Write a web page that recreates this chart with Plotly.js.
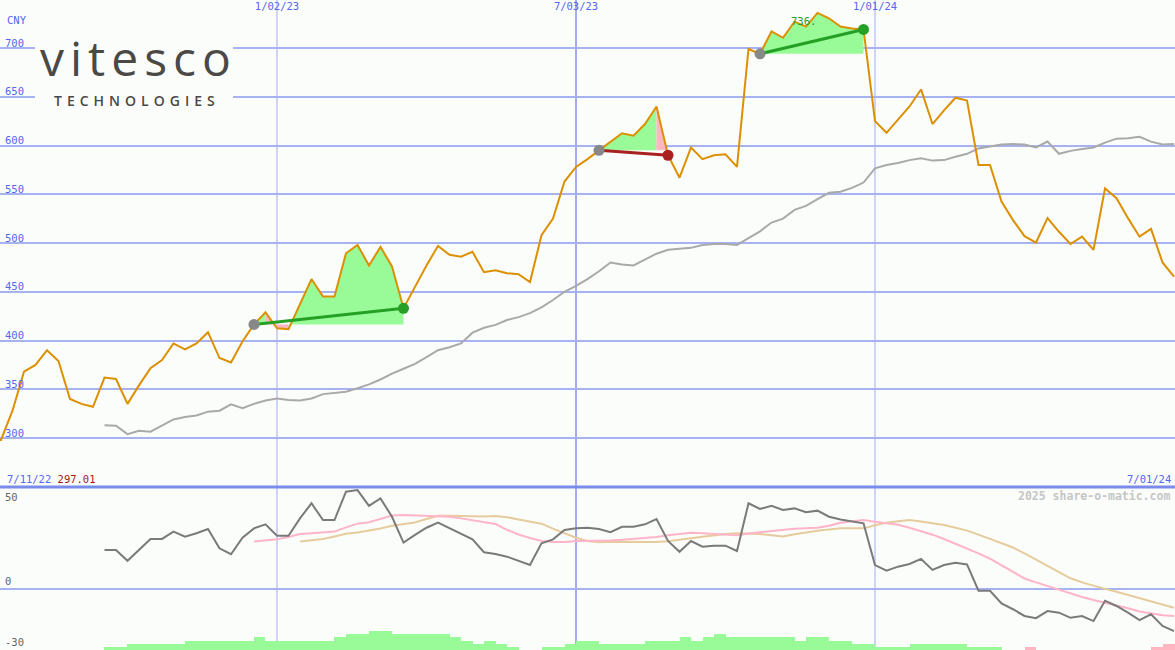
<!DOCTYPE html>
<html><head><meta charset="utf-8">
<script src="https://cdn.plot.ly/plotly-3.0.1.min.js"></script>
<style>html,body{margin:0;padding:0;background:#fbfdfb;} #chart{width:1175px;height:650px;}</style>
</head><body><div id="chart"></div>
<script>
// ---------- data ----------
const startDate = '2022-07-11';           // first weekly observation
const price = [297.01,
  298, 328, 368, 375, 390, 379, 340, 335, 332, 362,
  360.5, 335, 354, 371.5, 380, 397, 391, 397, 408.5, 382,
  377.5, 399, 416.5, 429, 412.5, 411.5, 437, 463, 445, 445,
  489.5, 498, 477, 496, 476, 433, 455, 477, 497, 488,
  486, 491, 470, 472, 469, 468, 460, 508, 525, 563,
  578, 586, 595, 604, 612.5, 610, 622, 640, 590, 567,
  598, 586, 590, 591, 578, 699, 694, 717, 710.5, 727,
  722, 736, 730.5, 722, 720, 719, 625, 613, 626, 640,
  657.5, 622, 636, 649, 646, 580, 580, 542.5, 523.5, 507,
  500.5, 525.5, 511.5, 499, 506.5, 493, 556, 546, 525.5, 506.5,
  514.5, 480, 465.5];
const maStart = 10;   // index into weekly dates where the average begins
const priceAvg = [313, 312.5, 304, 307.5, 306.5, 313, 319, 321.5, 323, 327,
  328, 334.5, 330.5, 335, 338.5, 340.5, 339, 338.5, 340.5, 345,
  346, 347.5, 351, 355, 360, 366, 371, 376, 383, 390,
  393, 397, 408, 413, 416, 421, 424, 428, 434, 441.5,
  450, 456, 463, 471, 480, 478, 477, 483, 489, 493,
  494, 495, 498, 499, 499, 498, 505, 512, 521, 525,
  534, 538, 545, 551.5, 552.5, 556.5, 562, 576.5, 580, 582,
  585, 587, 584.5, 585, 588.5, 591.5, 597, 599, 601, 601.5,
  601, 598, 604, 591.5, 594.5, 596.5, 598, 603, 607, 607.5,
  609, 604, 601, 601.5];
const oscStart = 10;
const oscillator = [19.1, 19.1, 13.8, 19, 24.5, 24.5, 28.1, 25.6, 27.3, 29.4,
  19.9, 17, 25.1, 29.7, 31.7, 26.1, 26.1, 34.6, 42, 33.8,
  33.8, 47.7, 48.5, 40.7, 44.4, 35.4, 22.7, 26.5, 30, 32.5,
  29.7, 26.9, 24.3, 18, 17.1, 15.8, 13.8, 11.7, 22.4, 24.3,
  28.9, 29.7, 30, 29.4, 27.8, 30.5, 30.5, 31.7, 34.3, 23.5,
  18.2, 23.5, 20.7, 21.2, 21.2, 18.6, 42, 39.2, 40.8, 38.7,
  39.5, 37.6, 38.4, 35.4, 34.1, 33, 32.2, 11.7, 8.9, 10.9,
  12.2, 14.7, 9.3, 11.7, 12.8, 12, -0.9, -0.9, -7.1, -10,
  -13.3, -14.4, -10.9, -11.7, -14.2, -13.3, -15.8, -5.8, -8.4, -11.7,
  -15.3, -12.5, -18.2, -20.7];
const fastStart = 23;
const oscFast = [23.2, 23.7, 24.3, 25.5, 26.9, 27.3, 27.7, 28.1,
  30.2, 32, 32.7, 34.5, 36, 36.3, 36, 35.8, 35.6, 35.4,
  34.6, 33.6, 32.8, 31.8, 29, 26.7, 25, 23.5, 23, 23,
  23.5, 23.5, 23.5, 23.8, 24.1, 24.5, 25, 25.5, 26.3, 27,
  27.6, 27.3, 27, 26.4, 26.3, 27.2, 27.8, 28.4, 29.2, 29.5,
  29.8, 30, 31, 32.5, 33.2, 33.8, 33, 32.3, 31.5, 30,
  28.3, 26.6, 24.5, 22.2, 19.9, 17.4, 14.8, 11.5, 8.5, 5.1,
  3.2, 1.4, -0.6, -2.5, -4, -5.5, -6.8, -8, -9.5, -11.1,
  -12, -12.9, -13.3];
const slowStart = 27;
const oscSlow = [23.2, 23.8, 24.5, 25.7,
  27, 27.7, 28.6, 29.6, 31, 31.9, 32.6, 34.3, 35.9, 35.9,
  35.8, 35.5, 35.5, 35.8, 35.2, 34, 33, 32, 29.6, 27.3,
  25.1, 23.5, 22.9, 23.1, 23.1, 23, 22.8, 23, 23.4, 24,
  24.8, 25.6, 26.3, 26.9, 27.3, 27.1, 26.9, 26.3, 25.7, 26.8,
  27.8, 28.5, 29.2, 29.7, 29.7, 29.7, 31.2, 32.5, 33.2, 33.8,
  33.1, 32.3, 31.3, 30, 28.6, 26.6, 24.6, 22.6, 20.3, 17.4,
  14.4, 11.3, 8.2, 5.2, 3.2, 1.5, 0, -1.4, -3, -4.7,
  -6.4, -7.8, -9.3];
const histStart = 10;
const histLevels = [1, 1, 2, 2, 2, 2, 2, 3, 3, 3,
  3, 3, 3, 4, 3, 3, 3, 3, 3, 3,
  4, 5, 5, 6, 6, 5, 5, 5, 5, 5,
  4, 3, 2, 3, 2, 1, 0, 0, 1, 1,
  2, 3, 3, 2, 2, 2, 2, 3, 3, 3,
  4, 3, 4, 5, 4, 4, 4, 4, 4, 4,
  3, 4, 4, 3, 3, 2, 2, 1, 1, 1,
  2, 2, 2, 2, 2, 1, 1, 1, 0, 0,
  -1, 0, 0, 0, 0, 0, 0, 0, 0, 0,
  0, -1, -2, -2];
const tradeEntry = [23, 53, 67];   // indices into weekly dates
const tradeExit  = [36, 59, 76];
const peakLabel = '736.';
const peakIndex = 72;
const priceTicks = [300, 350, 400, 450, 500, 550, 600, 650, 700];
const dateTicks = ['2023-01-02', '2023-07-03', '2024-01-01'];
const dateTickText = ['1/02/23', '7/03/23', '1/01/24'];
const oscLabels = [50, 0, -30];
const startLabel = '7/11/22', startValue = '297.01', endLabel = '7/01/24';

// ---------- helpers ----------
const DAY = 86400000;
const t0 = Date.parse(startDate + 'T00:00:00Z');
const dates = price.map((_, j) => new Date(t0 + j * 7 * DAY).toISOString().slice(0, 10));
const sub = (start, arr) => dates.slice(start, start + arr.length);

const BG = '#fbfdfb', GRID = '#a7b2f2', BLUE = '#5466ee', ORANGE = '#dc9000';
const GREEN = '#25a025', RED = '#a82020', FILLG = '#98fb98', FILLP = '#ffb6c1';
const MONO = 'DejaVu Sans Mono', LOGO = '#4a4946';
const px = x => x / 1175, py = y => 1 - y / 650;
const SPLIT = 1 - 487 / 650;

const traces = [];
// trade fills: green where the segment ends above the entry, pink where below
tradeEntry.forEach((e, k) => {
  const x = tradeExit[k], base = price[e];
  let a = e;
  while (a < x) {
    const up = price[a + 1] >= base;
    let b = a + 1;
    while (b < x && (price[b + 1] >= base) === up) b++;
    const xs = dates.slice(a, b + 1), ys = price.slice(a, b + 1);
    traces.push({x: xs.concat([dates[b], dates[a]]), y: ys.concat([base, base]),
      type: 'scatter', mode: 'lines', fill: 'toself', fillcolor: up ? FILLG : FILLP,
      line: {width: 0}, hoverinfo: 'skip'});
    a = b;
  }
});
traces.push({x: sub(maStart, priceAvg), y: priceAvg, type: 'scatter', mode: 'lines',
  line: {color: '#a9a9a9', width: 2}});
traces.push({x: dates, y: price, type: 'scatter', mode: 'lines',
  line: {color: ORANGE, width: 2}});
tradeEntry.forEach((e, k) => {
  const x = tradeExit[k], win = price[x] >= price[e];
  traces.push({x: [dates[e], dates[x]], y: [price[e], price[x]], type: 'scatter', mode: 'lines',
    line: {color: win ? GREEN : RED, width: 3}});
  traces.push({x: [dates[e]], y: [price[e]], type: 'scatter', mode: 'markers',
    marker: {color: '#888888', size: 11}});
  traces.push({x: [dates[x]], y: [price[x]], type: 'scatter', mode: 'markers',
    marker: {color: win ? GREEN : RED, size: 11}});
});
// lower panel
traces.push({x: sub(histStart, histLevels), y: histLevels.map(Math.abs), type: 'bar',
  xaxis: 'x2', yaxis: 'y3', width: 7 * DAY, offset: 0,
  marker: {color: histLevels.map(v => v < 0 ? FILLP : FILLG), line: {width: 0}}});
traces.push({x: sub(slowStart, oscSlow), y: oscSlow, xaxis: 'x2', yaxis: 'y2', type: 'scatter',
  mode: 'lines', line: {color: '#e6cc9c', width: 2}});
traces.push({x: sub(fastStart, oscFast), y: oscFast, xaxis: 'x2', yaxis: 'y2', type: 'scatter',
  mode: 'lines', line: {color: '#ffb4c8', width: 2}});
traces.push({x: sub(oscStart, oscillator), y: oscillator, xaxis: 'x2', yaxis: 'y2', type: 'scatter',
  mode: 'lines', line: {color: '#7a7a7a', width: 2}});

const xRange = ['2022-07-17 09:36:00', '2024-07-01 14:24:00'];
const shapes = dateTicks.map((d, k) => ({type: 'line', xref: 'x', yref: 'paper', x0: d, x1: d, y0: 0, y1: 1,
  layer: 'between', line: {color: '#a3acf2', width: dateTickText[k].startsWith('7/') ? 2 : 1}}));
shapes.push({type: 'line', xref: 'paper', yref: 'paper', x0: 0, x1: 1, y0: SPLIT, y1: SPLIT,
  line: {color: '#7a8bec', width: 3}});
shapes.push({type: 'rect', xref: 'paper', yref: 'paper', x0: px(35), x1: px(233), y0: py(112), y1: py(30),
  fillcolor: BG, line: {width: 0}, layer: 'above'});

const ann = [];
const txt = (x, y, text, color, size, xanchor, font) => ann.push({xref: 'paper', yref: 'paper',
  x: px(x), y: py(y), text, showarrow: false, xanchor: xanchor || 'left', yanchor: 'middle',
  font: font || {family: MONO, size: size || 10.5, color}});
txt(5, 20, 'CNY', BLUE);
oscLabels.forEach((v, k) => ann.push({xref: 'paper', yref: 'y2', x: px(3), y: v, text: String(v), showarrow: false,
  xanchor: 'left', yanchor: k === 0 ? 'top' : 'bottom', yshift: k === 0 ? -2 : 0,
  font: {family: MONO, size: 10.5, color: '#666666'}}));
txt(5, 479, startLabel + ' <span style="color:#a01818">' + startValue + '</span>', BLUE);
txt(1173, 479, endLabel, BLUE, 10.5, 'right');
txt(1172, 496, '<b>2025 share-o-matic.com</b>', '#c6c6c6', 11.5, 'right');
ann.push({x: dates[peakIndex], y: price[peakIndex], xref: 'x', yref: 'y', text: peakLabel, showarrow: false,
  xanchor: 'right', yanchor: 'top', font: {family: MONO, size: 10.5, color: '#2a9a2a'}});
txt(138, 57, 'vitesco', LOGO, 0, 'center', {family: 'Open Sans', size: 48, color: LOGO, weight: 400});
txt(137, 100, 'TECHNOLOGIES', LOGO, 0, 'center', {family: 'Open Sans', size: 14, color: LOGO, weight: 600});

const layout = {
  width: 1175, height: 650, margin: {l: 0, r: 0, t: 0, b: 0},
  paper_bgcolor: BG, plot_bgcolor: BG, showlegend: false, bargap: 0,
  xaxis: {type: 'date', range: xRange, domain: [0, 1], anchor: 'y', side: 'top',
    tickvals: dateTicks, ticktext: dateTickText, ticklabelposition: 'inside', ticks: '',
    showgrid: false, zeroline: false, showline: false,
    tickfont: {family: MONO, size: 10.5, color: BLUE}},
  xaxis2: {type: 'date', range: xRange, matches: 'x', anchor: 'y2', showticklabels: false,
    ticks: '', showgrid: false, zeroline: false},
  yaxis: {domain: [SPLIT, 1], range: [249.74, 749.23], tickvals: priceTicks,
    showgrid: true, gridcolor: GRID, gridwidth: 2, zeroline: false, ticks: '',
    ticklabelposition: 'inside', ticklabelstandoff: 2, ticklabelshift: -5,
    tickfont: {family: MONO, size: 10.5, color: BLUE}},
  yaxis2: {domain: [0, SPLIT], range: [-30, 50], tickvals: [0], showticklabels: false,
    showgrid: true, gridcolor: GRID, gridwidth: 2, zeroline: false, ticks: ''},
  yaxis3: {overlaying: 'y2', anchor: 'x2', range: [0, 51.75], visible: false},
  shapes, annotations: ann
};

Plotly.newPlot('chart', traces, layout, {staticPlot: true}).then(() => {
  document.querySelectorAll('text.annotation-text').forEach(t => {
    if (t.textContent === 'vitesco') t.style.letterSpacing = '6px';
    if (t.textContent === 'TECHNOLOGIES') t.style.letterSpacing = '5px';
  });
});
</script>
</body></html>
